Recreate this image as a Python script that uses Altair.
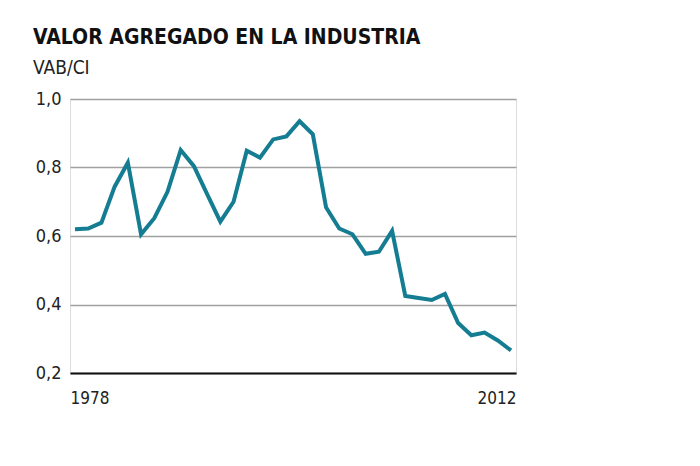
import altair as alt
import pandas as pd

years = list(range(1978, 2012))
values = [0.620, 0.622, 0.639, 0.744, 0.814, 0.605, 0.652, 0.729, 0.851, 0.804,
          0.722, 0.642, 0.700, 0.849, 0.829, 0.882, 0.891, 0.935, 0.897, 0.684,
          0.622, 0.605, 0.548, 0.554, 0.615, 0.425, 0.419, 0.413, 0.431, 0.346,
          0.310, 0.318, 0.295, 0.266]
x_tick_labels = ["1978", "2012"]
y_ticks = [0.2, 0.4, 0.6, 0.8, 1.0]

df = pd.DataFrame({"year": years, "value": values})

FONT = "DejaVu Sans Condensed, Roboto, sans-serif"

chart = alt.Chart(df).mark_line(
    color="#147d92", strokeWidth=4, strokeJoin="miter"
).encode(
    x=alt.X(
        "year:Q",
        scale=alt.Scale(domain=[years[0], years[-1]], padding=5, nice=False, zero=False),
        axis=alt.Axis(
            title=None,
            values=[years[0], years[-1]],
            labelExpr=f"datum.value == {years[0]} ? '{x_tick_labels[0]}' : '{x_tick_labels[1]}'",
            labelFlush=10,
            labelFlushOffset=5,
            ticks=False,
            grid=False,
            domainColor="#111111",
            domainWidth=2,
            labelFont=FONT,
            labelFontSize=17,
            labelColor="#222222",
            labelPadding=17,
        ),
    ),
    y=alt.Y(
        "value:Q",
        scale=alt.Scale(domain=[0.2, 1.0], nice=False, zero=False),
        axis=alt.Axis(
            title=None,
            values=y_ticks,
            format=".1f",
            labelExpr="replace(datum.label, '.', ',')",
            ticks=False,
            domain=False,
            grid=True,
            gridColor="#a0a0a0",
            gridWidth=1.4,
            labelFont=FONT,
            labelFontSize=18,
            labelColor="#222222",
            labelPadding=9,
        ),
    ),
).properties(
    width=446,
    height=274,
    padding={"left": 70, "top": 99, "right": 184, "bottom": 67},
    autosize=alt.AutoSizeParams(type="none"),
    title=alt.TitleParams(
        text="VALOR AGREGADO EN LA INDUSTRIA",
        subtitle="VAB/CI",
        anchor="start",
        frame="group",
        dx=-37,
        offset=12,
        font=FONT,
        fontSize=21,
        fontWeight="bold",
        color="#111111",
        subtitleFont=FONT,
        subtitleFontSize=19,
        subtitleColor="#222222",
        subtitlePadding=11,
    ),
).configure_view(stroke=None).configure(background="white")

chart.save("out.html", embed_options={"renderer": "svg", "actions": False})
